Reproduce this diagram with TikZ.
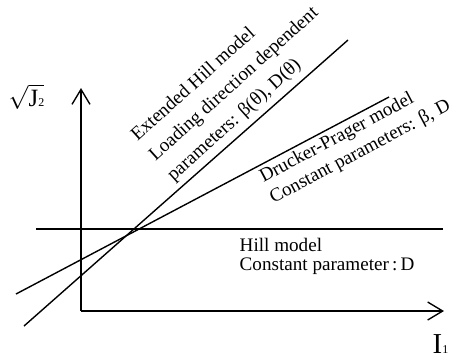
\documentclass[tikz,border=0pt]{standalone}
\usepackage{fontspec}
\setmainfont{Liberation Serif}
\usetikzlibrary{arrows.meta}
\tikzset{
  lbl/.style={inner sep=0pt,anchor=base west,font=\fontsize{9.6}{11}\selectfont},
  axis/.style={-{Straight Barb[length=7.5bp,width=9bp]}}
}
\newcommand{\smallsub}[1]{{\fontsize{6}{7}\selectfont #1}}
\begin{document}
\begin{tikzpicture}[x=0.5bp,y=-0.5bp,line width=0.7pt]
  \useasboundingbox (0,0) rectangle (451,358);
  \coordinate (O) at (81,311);
  \coordinate (Y) at (81,88);
  \coordinate (X) at (444,311);
  \coordinate (A) at (36,229);
  \coordinate (B) at (443,229);
  \coordinate (C) at (24,326);
  \coordinate (D) at (348,40);
  \coordinate (E) at (16,294);
  \coordinate (F) at (389,97);

  \node[lbl,font=\fontsize{12.5}{14}\selectfont] (J) at (8,106) {$\sqrt{\mbox{J\smallsub{2}}}$};
  \node[lbl,font=\fontsize{14.5}{16}\selectfont] (I) at (432,353) {I\smallsub{1}};

  \node[lbl,rotate=42] (P) at (137,142) {Extended Hill model};
  \node[lbl,rotate=42] (Q) at (155,162) {Loading direction dependent};
  \node[lbl,rotate=42] (R) at (173,182) {parameters: β(θ), D(θ)};

  \node[lbl,rotate=28] (S) at (263,183) {Drucker-Prager model};
  \node[lbl,rotate=28] (T) at (273,204) {Constant parameters: β, D};

  \node[lbl] (U) at (239,251) {Hill model};
  \node[lbl] (V) at (239,270) {Constant parameter\,:\,D};

  \draw[axis] (O) -- (Y);
  \draw[axis] (O) -- (X);
  \draw (A) -- (B);
  \draw (C) -- (D);
  \draw (E) -- (F);
\end{tikzpicture}
\end{document}
